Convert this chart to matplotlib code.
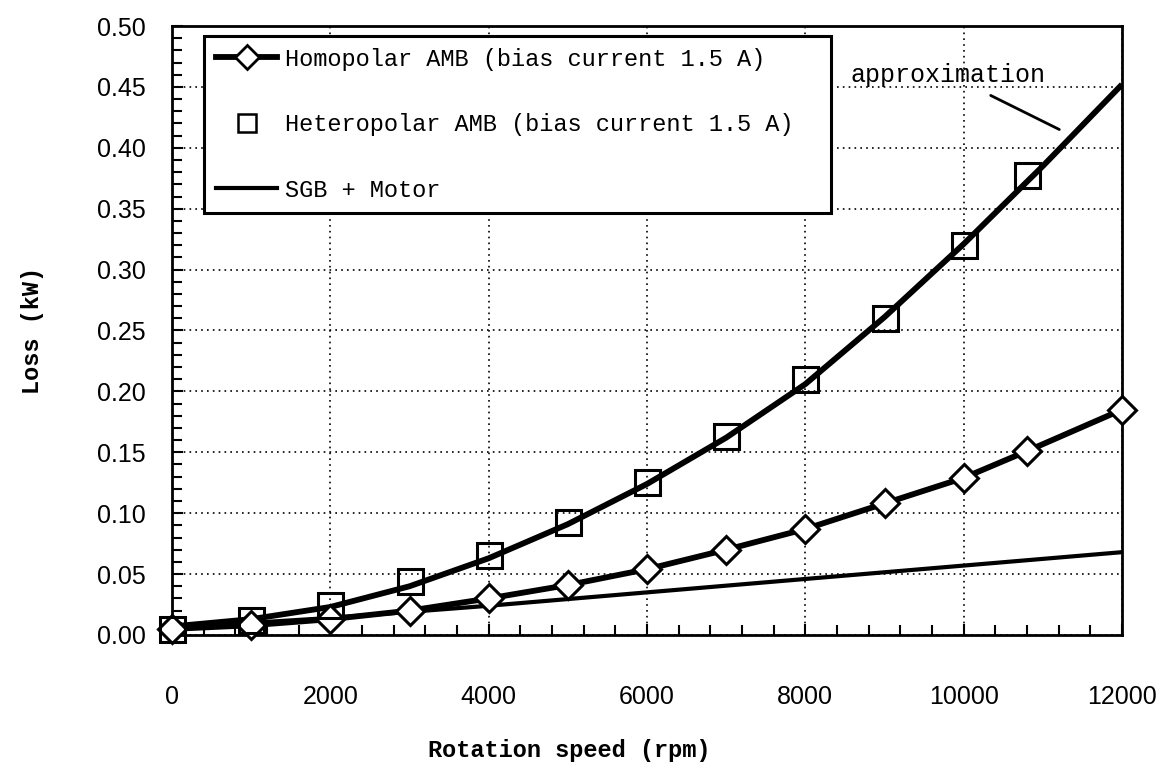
import matplotlib
matplotlib.use('Agg')
import matplotlib.pyplot as plt
from matplotlib.lines import Line2D
from matplotlib.ticker import MultipleLocator, FormatStrFormatter

speed = [0, 1000, 2000, 3000, 4000, 5000, 6000, 7000, 8000, 9000, 10000, 10800, 12000]
homopolar = [0.005, 0.008, 0.013, 0.020, 0.030, 0.041, 0.054, 0.070, 0.087, 0.108, 0.129, 0.151, 0.185]

hetero_speed = [0, 1000, 2000, 3000, 4000, 5000, 6000, 7000, 8000, 9000, 10000, 10800]
heteropolar = [0.005, 0.012, 0.025, 0.044, 0.066, 0.093, 0.126, 0.163, 0.210, 0.260, 0.320, 0.378]

approx_speed = [0, 1000, 2000, 3000, 4000, 5000, 6000, 7000, 8000, 9000, 10000, 11000, 12000]
approx = [0.007, 0.013, 0.023, 0.040, 0.063, 0.091, 0.124, 0.162, 0.206, 0.261, 0.321, 0.385, 0.452]

sgb_speed = [0, 2000, 4000, 6000, 8000, 10000, 12000]
sgb = [0.006, 0.014, 0.024, 0.035, 0.046, 0.057, 0.068]

labels = ['Homopolar AMB (bias current 1.5 A)',
          'Heteropolar AMB (bias current 1.5 A)',
          'SGB + Motor']

mono = 'Liberation Mono'
sans = 'Liberation Sans'

fig = plt.figure(figsize=(11.61, 7.72), dpi=100)
ax = fig.add_axes([172 / 1161, 1 - 635 / 772, 950 / 1161, 609 / 772])

ax.plot(sgb_speed, sgb, color='black', lw=3, zorder=3)
ax.plot(approx_speed, approx, color='black', lw=4.2, zorder=4, solid_capstyle='butt')
ax.plot(speed, homopolar, color='black', lw=4.2, marker='D', ms=14.5, mfc='white',
        mec='black', mew=2.2, zorder=5, clip_on=False)
ax.plot(hetero_speed, heteropolar, ls='none', marker='s', ms=18, mfc='none',
        mec='black', mew=2.2, zorder=6, clip_on=False)

ax.set_xlim(0, 12000)
ax.set_ylim(0, 0.5)
ax.xaxis.set_major_locator(MultipleLocator(2000))
ax.xaxis.set_minor_locator(MultipleLocator(400))
ax.yaxis.set_major_locator(MultipleLocator(0.05))
ax.yaxis.set_minor_locator(MultipleLocator(0.01))
ax.yaxis.set_major_formatter(FormatStrFormatter('%.2f'))
ax.grid(True, which='major', color='black', ls=(0, (1, 2.5)), lw=1.2)
ax.tick_params(which='both', direction='in', top=False, right=False, width=1.5, colors='black')
ax.tick_params(which='major', length=8)
ax.tick_params(which='minor', length=7)
ax.tick_params(axis='x', pad=36, labelsize=18)
ax.tick_params(axis='y', pad=19, labelsize=18)
for lab in ax.get_xticklabels() + ax.get_yticklabels():
    lab.set_fontfamily(sans)
for s in ax.spines.values():
    s.set_linewidth(2)
    s.set_color('black')

ax.set_xlabel('Rotation speed (rpm)', fontfamily=mono, fontweight='bold', fontsize=17)
ax.set_ylabel('Loss (kW)', fontfamily=mono, fontweight='bold', fontsize=17)
ax.xaxis.set_label_coords(0.418, -0.17)
ax.yaxis.set_label_coords(-0.135, 0.5)

handles = [
    Line2D([], [], color='black', lw=4.2, marker='D', ms=12, mfc='white', mec='black', mew=2),
    Line2D([], [], ls='none', marker='s', ms=13, mfc='white', mec='black', mew=1.8),
    Line2D([], [], color='black', lw=3),
]
leg = ax.legend(handles, labels, loc='upper left', bbox_to_anchor=(0.034, 0.984, 0.66, 0.0),
                mode='expand', prop={'family': mono, 'size': 17}, numpoints=1,
                handlelength=2.6, handletextpad=0.3, labelspacing=1.8, borderpad=0.5,
                borderaxespad=0, fancybox=False, framealpha=1, edgecolor='black')
leg.get_frame().set_linewidth(2.2)
leg.set_zorder(10)

ax.text(8565, 0.46, 'approximation', fontfamily=mono, fontsize=18, va='center', ha='left')
ax.annotate('', xy=(11240, 0.414), xytext=(10310, 0.444),
            arrowprops=dict(arrowstyle='-', lw=2, color='black'))

fig.savefig('out.png', dpi=100)
